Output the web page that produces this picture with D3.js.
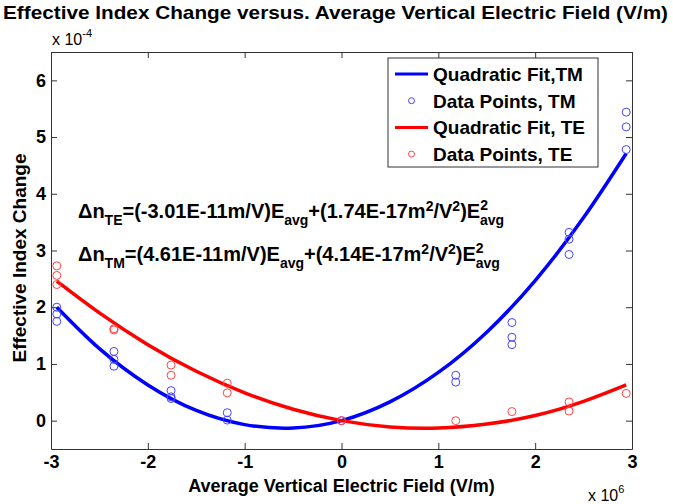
<!DOCTYPE html>
<html>
<head>
<meta charset="utf-8">
<script src="https://cdn.jsdelivr.net/npm/d3@7"></script>
<style>
body { margin: 0; background: #fff; }
svg { display: block; font-family: "Liberation Sans", Arial, sans-serif; font-weight: bold; }
</style>
</head>
<body>
<script>
// field values, units of 1e6 V/m
var fieldX = [-2.94, -2.35, -1.76, -1.18, 0, 1.18, 1.76, 2.35, 2.94];

// measured points (units of 1e-4), one list per field value
var tmPoints = [[2.0, 1.88, 1.75], [1.22, 1.08, 0.96], [0.53, 0.42, 0.39], [0.14, 0.01],
  [0.0], [0.80, 0.68], [1.73, 1.47, 1.34], [3.32, 3.20, 2.93], [5.44, 5.18, 4.78]];
var tePoints = [[2.73, 2.56, 2.40], [1.62, 1.60], [0.98, 0.80], [0.66, 0.49],
  [0.0], [0.0], [0.16], [0.33, 0.17], [0.48]];

// fitted curves
var fitX = [-2.94, -2.5, -2, -1.5, -1, -0.5, 0, 0.5, 1, 1.5, 2, 2.5, 2.94];
var tmFit = [2.00, 1.27, 0.63, 0.18, -0.07, -0.13, 0.0, 0.33, 0.85, 1.56, 2.47, 3.58, 4.71];
var teFit = [2.46, 1.90, 1.34, 0.87, 0.49, 0.20, 0.0, -0.11, -0.13, -0.06, 0.09, 0.34, 0.63];

var xTicks = [-3, -2, -1, 0, 1, 2, 3];
var yTicks = [0, 1, 2, 3, 4, 5, 6];

var legendNames = ["Quadratic Fit,TM", "Data Points, TM", "Quadratic Fit, TE", "Data Points, TE"];

var width = 673, height = 504;
// plot box (note: "top" is taken by window.top, so prefix them)
var pLeft = 51, pRight = 632, pTop = 52, pBottom = 449;

var svg = d3.select("body").append("svg")
  .attr("width", width)
  .attr("height", height);

var x = d3.scaleLinear().domain([-3, 3]).range([pLeft, pRight]);
var y = d3.scaleLinear().domain([-0.5, 6.5]).range([pBottom, pTop]);

var plainNum = function(d) { return String(d); };

// title
svg.append("text")
  .attr("x", 3).attr("y", 19)
  .attr("textLength", 665).attr("lengthAdjust", "spacingAndGlyphs")
  .style("font-size", "19px")
  .text("Effective Index Change versus. Average Vertical Electric Field (V/m)");

// axes box with inward ticks on every side
var tickLen = 6;
function styleLabels(g) {
  g.selectAll("text").style("font-size", "18px").style("font-weight", "bold").attr("fill", "#000");
}
svg.append("g").attr("transform", "translate(0," + pBottom + ")")
  .call(d3.axisBottom(x).tickValues(xTicks).tickSizeInner(-tickLen).tickSizeOuter(0).tickPadding(6).tickFormat(plainNum))
  .call(styleLabels);
svg.append("g").attr("transform", "translate(0," + pTop + ")")
  .call(d3.axisTop(x).tickValues(xTicks).tickSizeInner(-tickLen).tickSizeOuter(0).tickFormat(""));
svg.append("g").attr("transform", "translate(" + pLeft + ",0)")
  .call(d3.axisLeft(y).tickValues(yTicks).tickSizeInner(-tickLen).tickSizeOuter(0).tickPadding(5).tickFormat(plainNum))
  .call(styleLabels);
svg.append("g").attr("transform", "translate(" + pRight + ",0)")
  .call(d3.axisRight(y).tickValues(yTicks).tickSizeInner(-tickLen).tickSizeOuter(0).tickFormat(""));
svg.selectAll(".domain").attr("stroke", "#333");
svg.selectAll(".tick line").attr("stroke", "#333");

// exponent labels
var e1 = svg.append("text").attr("x", 52).attr("y", 45).style("font-size", "16px").style("font-weight", "normal");
e1.append("tspan").text("x 10");
e1.append("tspan").attr("dy", -8).style("font-size", "11px").text("-4");
var e2 = svg.append("text").attr("x", 588).attr("y", 501).style("font-size", "16px").style("font-weight", "normal");
e2.append("tspan").text("x 10");
e2.append("tspan").attr("dy", -8).style("font-size", "11px").text("6");

// axis labels
svg.append("text")
  .attr("x", (pLeft + pRight) / 2).attr("y", 492)
  .attr("text-anchor", "middle")
  .style("font-size", "18px")
  .text("Average Vertical Electric Field (V/m)");
svg.append("text")
  .attr("transform", "translate(26,258) rotate(-90)")
  .attr("text-anchor", "middle")
  .style("font-size", "19px")
  .text("Effective Index Change");

// fit curves
var line = d3.line()
  .x(function(d) { return x(d[0]); })
  .y(function(d) { return y(d[1]); })
  .curve(d3.curveNatural);

svg.append("path")
  .datum(d3.zip(fitX, tmFit))
  .attr("d", line)
  .attr("fill", "none").attr("stroke", "#0000ff").attr("stroke-width", 3.5);
svg.append("path")
  .datum(d3.zip(fitX, teFit))
  .attr("d", line)
  .attr("fill", "none").attr("stroke", "#ff0000").attr("stroke-width", 3.5);

// data markers
function flatten(pts) {
  var out = [];
  pts.forEach(function(vals, i) {
    vals.forEach(function(v) { out.push([fieldX[i], v]); });
  });
  return out;
}

svg.append("g").selectAll("circle")
  .data(flatten(tmPoints))
  .enter().append("circle")
  .attr("cx", function(d) { return x(d[0]); })
  .attr("cy", function(d) { return y(d[1]); })
  .attr("r", 4)
  .attr("fill", "none").attr("stroke", "#4444ff").attr("stroke-width", 1);

svg.append("g").selectAll("circle")
  .data(flatten(tePoints))
  .enter().append("circle")
  .attr("cx", function(d) { return x(d[0]); })
  .attr("cy", function(d) { return y(d[1]); })
  .attr("r", 4)
  .attr("fill", "none").attr("stroke", "#ff4444").attr("stroke-width", 1);

// equations
function subText(el, parts) {
  parts.forEach(function(p) {
    var t = el.append("tspan").text(p.t);
    if (p.sub) t.style("font-size", "14px").attr("dy", p.dy);
    if (p.dx) t.attr("dx", p.dx);
    if (p.back) t.attr("dy", p.back);
  });
}
var eq1 = svg.append("text").attr("x", 78).attr("y", 218).style("font-size", "20px");
subText(eq1, [
  {t: "\u0394n"}, {t: "TE", sub: true, dy: 7}, {t: "=(-3.01E-11m/V)E", back: -7},
  {t: "avg", sub: true, dy: 7}, {t: "+(1.74E-17m", back: -7}, {t: "2", sub: true, dy: -7},
  {t: "/V", back: 7}, {t: "2", sub: true, dy: -7}, {t: ")E", back: 7},
  {t: "2", sub: true, dy: -8}, {t: "avg", sub: true, dy: 15, dx: -8}
]);
var eq2 = svg.append("text").attr("x", 78).attr("y", 261).style("font-size", "20px");
subText(eq2, [
  {t: "\u0394n"}, {t: "TM", sub: true, dy: 7}, {t: "=(4.61E-11m/V)E", back: -7},
  {t: "avg", sub: true, dy: 7}, {t: "+(4.14E-17m", back: -7}, {t: "2", sub: true, dy: -7},
  {t: "/V", back: 7}, {t: "2", sub: true, dy: -7}, {t: ")E", back: 7},
  {t: "2", sub: true, dy: -8}, {t: "avg", sub: true, dy: 15, dx: -8}
]);

// legend
var lg = svg.append("g");
lg.append("rect")
  .attr("x", 388).attr("y", 58).attr("width", 210).attr("height", 109)
  .attr("fill", "#fff").attr("stroke", "#333").attr("stroke-width", 1);
var legendColors = ["#0000ff", "#4444ff", "#ff0000", "#ff4444"];
legendNames.forEach(function(name, i) {
  var ly = 74 + i * 26.7;
  if (i % 2 === 0) {
    lg.append("line").attr("x1", 395).attr("x2", 428).attr("y1", ly).attr("y2", ly)
      .attr("stroke", legendColors[i]).attr("stroke-width", 3);
  } else {
    lg.append("circle").attr("cx", 411.5).attr("cy", ly).attr("r", 3)
      .attr("fill", "none").attr("stroke", legendColors[i]).attr("stroke-width", 1);
  }
  lg.append("text").attr("x", 433).attr("y", ly + 7)
    .style("font-size", "19px")
    .text(name);
});
</script>
</body>
</html>
